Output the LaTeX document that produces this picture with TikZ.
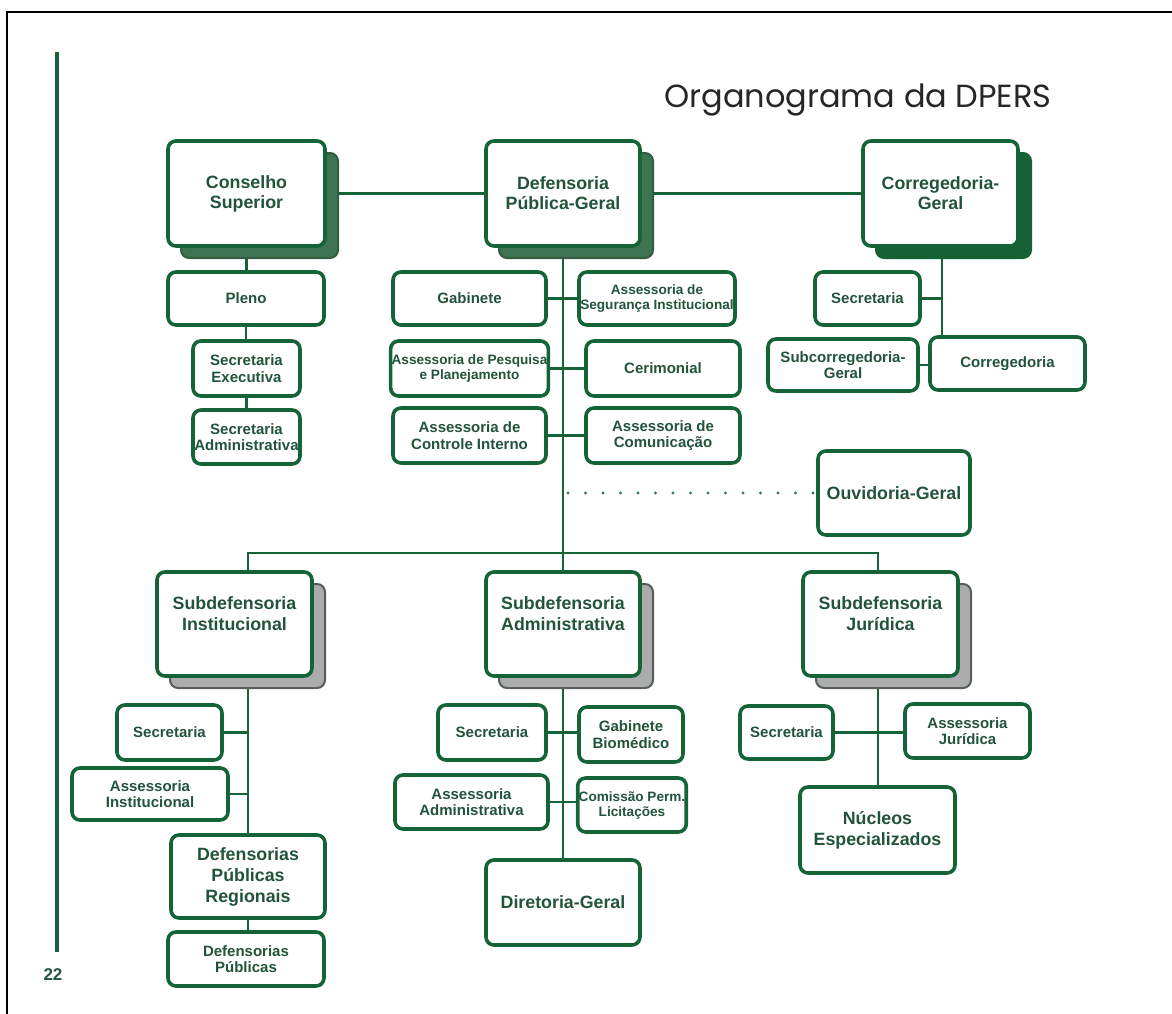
\documentclass[tikz,border=0pt]{standalone}
\usepackage{fontspec}
\setmainfont{Liberation Sans}
\newfontfamily\titlefont{Poppins}
\usetikzlibrary{backgrounds}
\definecolor{bord}{RGB}{20,100,56}
\definecolor{txt}{RGB}{34,84,58}
\definecolor{shg}{RGB}{62,116,82}
\definecolor{shd}{RGB}{22,98,52}
\definecolor{shgr}{RGB}{172,172,175}
\definecolor{shgrb}{RGB}{85,95,88}
\tikzset{
  box/.style={draw=bord, line width=3.6pt, rounded corners=8pt, fill=white, align=center,
     text=txt, font=\bfseries\fontsize{15}{16.5}\selectfont, inner sep=1pt},
  boxs/.style={box, font=\bfseries\fontsize{13.6}{15}\selectfont},
  big/.style={box, font=\bfseries\fontsize{17.8}{21}\selectfont},
  shadowgreen/.style={draw=shg!80!black, line width=2pt, rounded corners=8pt, fill=shg},
  shadowdark/.style={draw=shd, line width=2pt, rounded corners=8pt, fill=shd},
  shadowgrey/.style={draw=shgrb, line width=2pt, rounded corners=8pt, fill=shgr},
  conn/.style={draw=bord, line width=2.6pt},
  dotconn/.style={draw=bord!85, line width=3.4pt, line cap=round, dash pattern=on 0pt off 17.5pt},
}
\begin{document}
\begin{tikzpicture}[x=1pt,y=-1pt]
\useasboundingbox (0,0) rectangle (1172,1014);
% page frame
\draw[black, line width=1.6pt] (7,1014) -- (7,12) -- (1172,12);
% page bar
\draw[bord, line width=4pt] (57,52) -- (57,952);
\node[text=txt, font=\bfseries\fontsize{17}{19}\selectfont] (pnum) at (53,975) {22};
% title
\node[text=black!85, font=\titlefont\fontsize{32}{38}\selectfont, anchor=base] (title) at (858,108) {Organograma da DPERS};

% shadows
\node[shadowgreen, minimum width=157, minimum height=105] (consS) at (259.5,205.5) {};
\node[shadowgreen, minimum width=154, minimum height=105] (defS) at (576,205.5) {};
\node[shadowdark, minimum width=155, minimum height=105] (corrS) at (953.5,205.5) {};
\node[shadowgrey, minimum width=155, minimum height=104] (sinstS) at (247.5,636) {};
\node[shadowgrey, minimum width=154, minimum height=104] (sadmS) at (576,636) {};
\node[shadowgrey, minimum width=155, minimum height=104] (sjurS) at (893.5,636) {};

% top row
\node[big, minimum width=157, minimum height=105] (cons) at (246.5,193.5) {Conselho\\[-1pt]Superior};
\node[big, minimum width=154, minimum height=105] (def) at (563,193.5) {Defensoria\\[-1pt]Pública-Geral};
\node[big, minimum width=155, minimum height=105] (corr) at (940.5,193.5) {Corregedoria-\\[-1pt]Geral};

% conselho column
\node[box, minimum width=156, minimum height=53] (pleno) at (246,298.5) {Pleno};
\node[box, minimum width=107, minimum height=55] (secex) at (246.5,368.5) {Secretaria\\Executiva};
\node[box, minimum width=107, minimum height=54] (secadm) at (246.5,437) {Secretaria\\Administrativa};

% central column
\node[box, minimum width=153, minimum height=53] (gab) at (469.5,298.5) {Gabinete};
\node[boxs, minimum width=156, minimum height=53] (aseg) at (657,298.5) {Assessoria de\\Segurança Institucional};
\node[boxs, minimum width=153, minimum height=55] (apesq) at (469.5,368.5) {Assessoria de Pesquisa\\e Planejamento};
\node[box, minimum width=154, minimum height=55] (cerim) at (663,368.5) {Cerimonial};
\node[box, minimum width=153, minimum height=55] (actrl) at (469.5,435.5) {Assessoria de\\Controle Interno};
\node[box, minimum width=154, minimum height=55] (acom) at (663,435.5) {Assessoria de\\Comunicação};
\node[big, minimum width=152, minimum height=84] (ouv) at (894,493) {Ouvidoria-Geral};

% corregedoria column
\node[box, minimum width=105, minimum height=53] (csec) at (867.5,298.5) {Secretaria};
\node[box, minimum width=150, minimum height=52] (subc) at (843,365) {Subcorregedoria-\\Geral};
\node[box, minimum width=155, minimum height=53] (corrg) at (1007.5,363.5) {Corregedoria};

% subdefensorias
\node[big, minimum width=155, minimum height=104] (sinst) at (234.5,624) {Subdefensoria\\[0pt]Institucional\\[-1pt]};
\node[big, minimum width=154, minimum height=104] (sadm) at (563,624) {Subdefensoria\\[0pt]Administrativa\\[-1pt]};
\node[big, minimum width=155, minimum height=104] (sjur) at (880.5,624) {Subdefensoria\\[0pt]Jurídica\\[-1pt]};

% institucional children
\node[box, minimum width=105, minimum height=55] (isec) at (169.5,732.5) {Secretaria};
\node[box, minimum width=156, minimum height=52] (iass) at (150,794) {Assessoria\\Institucional};
\node[big, minimum width=154, minimum height=83] (dpr) at (248,876.5) {Defensorias\\Públicas\\Regionais};
\node[box, minimum width=156, minimum height=54] (dp) at (246,959) {Defensorias\\Públicas};

% administrativa children
\node[box, minimum width=108, minimum height=55] (asec) at (492,732.5) {Secretaria};
\node[box, minimum width=104, minimum height=55] (agab) at (631,734.5) {Gabinete\\Biomédico};
\node[box, minimum width=153, minimum height=54] (aass) at (471.5,802) {Assessoria\\Administrativa};
\node[boxs, minimum width=108, minimum height=54] (acomis) at (632,805) {Comissão Perm.\\Licitações};
\node[big, minimum width=154, minimum height=85] (dirg) at (563,902.5) {Diretoria-Geral};

% juridica children
\node[box, minimum width=93, minimum height=53] (jsec) at (786.5,732.5) {Secretaria};
\node[box, minimum width=125, minimum height=54] (jass) at (967.5,731) {Assessoria\\Jurídica};
\node[big, minimum width=155, minimum height=86] (nucl) at (877.5,830) {Núcleos\\Especializados};

% junction coordinates
\coordinate (barL) at (248,553);
\coordinate (barM) at (563,553);
\coordinate (barR) at (878,553);
\coordinate (dotA) at (568,493);
\coordinate (ctrunk) at (942,258);
\coordinate (ctrunkB) at (942,364);
\coordinate (itrunk) at (248,688);
\coordinate (jtrunk) at (878,688);

\begin{scope}[on background layer]
\draw[conn] (cons.east) -- (def.west);
\draw[conn] (def.east) -- (corr.west);
\draw[conn] (pleno.north -| cons.south) -- (cons.south);
\draw[conn] (pleno.south) -- (pleno.south |- secex.north);
\draw[conn] (secex.south) -- (secadm.north);
\draw[conn] (def.south) -- (barM);
\draw[conn] (gab.east) -- (aseg.west);
\draw[conn] (apesq.east) -- (cerim.west);
\draw[conn] (actrl.east) -- (acom.west);
\draw[dotconn] (dotA) -- (ouv.west);
\draw[conn] (ctrunk) -- (ctrunkB);
\draw[conn] (csec.east) -- (csec.east -| ctrunk);
\draw[conn] (subc.east) -- (subc.east -| corrg.west);
\draw[conn] (barL |- sinst.north) -- (barL) -- (barR) -- (barR |- sjur.north);
\draw[conn] (barM) -- (sadm.north);
\draw[conn] (itrunk) -- (itrunk |- dpr.north);
\draw[conn] (isec.east) -- (isec.east -| itrunk);
\draw[conn] (iass.east) -- (iass.east -| itrunk);
\draw[conn] (dpr.south) -- (dpr.south |- dp.north);
\draw[conn] (sadm.south) -- (dirg.north);
\draw[conn] (asec.east) -- (asec.east -| agab.west);
\draw[conn] (aass.east) -- (aass.east -| acomis.west);
\draw[conn] (jtrunk) -- (jtrunk |- nucl.north);
\draw[conn] (jsec.east) -- (jsec.east -| jass.west);
\end{scope}
\end{tikzpicture}
\end{document}
